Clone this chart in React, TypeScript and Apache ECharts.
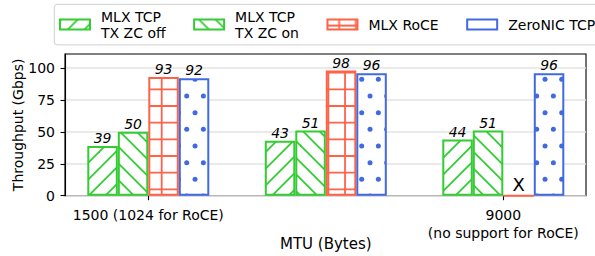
import React, { useEffect, useRef } from 'react';
import * as echarts from 'echarts';

// ---- data ----
const categories = ['1500 (1024 for RoCE)', '4000 (4096 for RoCE)', '9000\n(no support for RoCE)'];
const seriesNames = ['MLX TCP\nTX ZC off', 'MLX TCP\nTX ZC on', 'MLX RoCE', 'ZeroNIC TCP'];
const tcpZcOff = [39, 43, 44];
const tcpZcOn = [50, 51, 51];
const roce = [93, 98, 0];
const zeroNic = [92, 96, 96];
const yTicks = [0, 25, 50, 75, 100];

const GREEN = '#33cc33';
const RED = '#ff6347';
const BLUE = '#4169e1';
const FONT = 'DejaVu Sans';
const P = 100 / 6;

function makePattern(kind: string, color: string) {
  const w = 50;
  const h = kind === 'dots' ? 100 : 50;
  const c = document.createElement('canvas');
  c.width = w;
  c.height = h;
  const g = c.getContext('2d')!;
  g.fillStyle = '#ffffff';
  g.fillRect(0, 0, w, h);
  g.strokeStyle = color;
  g.fillStyle = color;
  g.lineWidth = 1.8;
  if (kind === 'fwd') {
    for (let k = -2; k <= 8; k++) {
      const s = 1 + k * P;
      g.beginPath();
      g.moveTo(s + 10, -10);
      g.lineTo(s - 70, 70);
      g.stroke();
    }
  } else if (kind === 'back') {
    for (let k = -5; k <= 5; k++) {
      const s = 5 + k * P;
      g.beginPath();
      g.moveTo(s - 10, -10);
      g.lineTo(s + 70, 70);
      g.stroke();
    }
  } else if (kind === 'grid') {
    for (let k = -1; k <= 3; k++) {
      const y = 6 + k * P;
      g.beginPath();
      g.moveTo(-2, y);
      g.lineTo(w + 2, y);
      g.stroke();
      const x = 11.7 + k * P;
      g.beginPath();
      g.moveTo(x, -2);
      g.lineTo(x, h + 2);
      g.stroke();
    }
  } else if (kind === 'dots') {
    for (let r = -1; r <= 6; r++) {
      const y = 12.67 + r * P;
      const x0 = Math.abs(r % 2) === 1 ? 3.37 : 11.7;
      for (let cc = -1; cc <= 3; cc++) {
        const x = x0 + cc * P;
        g.beginPath();
        g.arc(x, y, 2.5, 0, Math.PI * 2);
        g.fill();
      }
    }
  }
  return { image: c, repeat: 'repeat', imageWidth: w, imageHeight: h } as any;
}

export default function App() {
  const ref = useRef<HTMLDivElement>(null);
  useEffect(() => {
    document.body.style.margin = '0';
    const chart = echarts.init(ref.current!, null, { renderer: 'svg' });
    const labelBase = {
      show: true,
      position: 'top',
      distance: 1,
      fontStyle: 'italic',
      fontSize: 14,
      color: '#000',
      fontFamily: FONT,
    };
    const mk = (name: string, data: any[], kind: string, color: string) => ({
      type: 'bar',
      name,
      xAxisIndex: 1,
      yAxisIndex: 1,
      barWidth: 30.5,
      barGap: '0%',
      itemStyle: { color: makePattern(kind, color), borderColor: color, borderWidth: 2 },
      label: labelBase,
      data,
    });
    const option: any = {
      animation: false,
      textStyle: { fontFamily: FONT },
      legend: {
        left: 54.3,
        top: 4.3,
        width: 560,
        orient: 'horizontal',
        icon: 'rect',
        itemWidth: 30,
        itemHeight: 10,
        itemGap: 27.5,
        padding: [4.3, 10, 4.3, 4.7],
        backgroundColor: '#fff',
        borderColor: '#d0d0d0',
        borderWidth: 1,
        borderRadius: 3,
        selectedMode: false,
        textStyle: { fontSize: 14, color: '#000', lineHeight: 16, padding: [0, 0, 0, 6], fontFamily: FONT },
        data: seriesNames,
      },
      grid: [
        { left: 65, right: 9, top: 54, bottom: 60.3, show: true, borderColor: '#000', borderWidth: 1.1, backgroundColor: 'transparent', outerBoundsMode: 'none', containLabel: false },
        { left: 59.55, right: 2.95, top: 54, bottom: 60.3, outerBoundsMode: 'none', containLabel: false },
      ],
      xAxis: [
        { gridIndex: 0, type: 'value', show: false, min: 0, max: 1 },
        {
          gridIndex: 1,
          type: 'category',
          data: categories,
          axisLine: { show: false },
          axisTick: { show: true, alignWithLabel: true, length: 4.5, lineStyle: { color: '#000', width: 1.1 } },
          axisLabel: { color: '#000', fontSize: 14, lineHeight: 18, margin: 10, fontFamily: FONT },
          splitLine: { show: false },
          name: 'MTU (Bytes)',
          nameLocation: 'middle',
          nameGap: 40.5,
          nameMoveOverlap: false,
          nameTextStyle: { color: '#000', fontSize: 15, fontFamily: FONT },
        },
      ],
      yAxis: [
        {
          gridIndex: 0,
          type: 'value',
          min: 0,
          max: 111,
          interval: 25,
          axisLine: { show: true, lineStyle: { color: '#000', width: 1.1 } },
          axisTick: { show: true, length: 4.5, customValues: yTicks, lineStyle: { color: '#000', width: 1.1 } },
          axisLabel: { customValues: yTicks, color: '#000', fontSize: 14, margin: 10, fontFamily: FONT },
          splitLine: { show: true, lineStyle: { color: '#e3e3e3', width: 1.5 } },
          name: 'Throughput (Gbps)',
          nameLocation: 'middle',
          nameGap: 40,
          nameMoveOverlap: false,
          nameTextStyle: { color: '#000', fontSize: 14, fontFamily: FONT },
        },
        { gridIndex: 1, type: 'value', min: 0, max: 111, show: false, splitLine: { show: false } },
      ],
      series: [
        mk(seriesNames[0], tcpZcOff, 'fwd', GREEN),
        mk(seriesNames[1], tcpZcOn, 'back', GREEN),
        mk(
          seriesNames[2],
          roce.map((v) => (v === 0 ? { value: 0, label: { formatter: 'X', fontStyle: 'normal', fontSize: 18 } } : v)),
          'grid',
          RED
        ),
        mk(seriesNames[3], zeroNic, 'dots', BLUE),
      ],
    };
    chart.setOption(option);
    return () => chart.dispose();
  }, []);
  return <div ref={ref} style={{ position: 'absolute', left: 0, top: 0, width: 595, height: 256 }} />;
}
